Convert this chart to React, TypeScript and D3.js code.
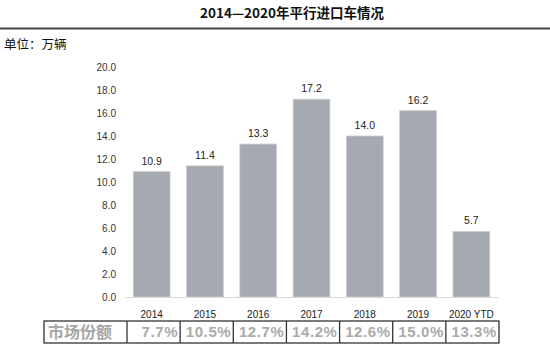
import React from "react";
import * as d3 from "d3";

const categories = ["2014", "2015", "2016", "2017", "2018", "2019", "2020 YTD"];
const values = [10.9, 11.4, 13.3, 17.2, 14.0, 16.2, 5.7];
const shares = ["7.7%", "10.5%", "12.7%", "14.2%", "12.6%", "15.0%", "13.3%"];
const yTicks = [0, 2, 4, 6, 8, 10, 12, 14, 16, 18, 20];
const title = "2014—2020年平行进口车情况";
const unitLabel = "单位：万辆";
const shareLabel = "市场份额";

const W = 550;
const H = 351;
const CJK = "'Noto Sans CJK SC', 'Noto Sans', sans-serif";
const LAT = "'Liberation Sans', Arial, sans-serif";

export default function App() {
  const x = d3
    .scaleBand<string>()
    .domain(categories)
    .range([125, 498])
    .paddingInner(0.31)
    .paddingOuter(0.155);
  const y = d3.scaleLinear().domain([0, 20]).range([297, 67]);
  const tx = d3.scaleBand<string>().domain(categories).range([127, 499]);
  const tableTop = 321;
  const tableBottom = 343;

  return (
    <svg
      width={W}
      height={H}
      style={{ position: "absolute", left: 0, top: 0, background: "#fff" }}
    >
      <rect x={0} y={0} width={W} height={H} fill="#fff" />
      <text
        x={292}
        y={18}
        textAnchor="middle"
        fontFamily={CJK}
        fontWeight={700}
        fontSize={13.5}
        fill="#111"
      >
        {title}
      </text>
      <line x1={0} x2={W} y1={28.5} y2={28.5} stroke="#444" strokeWidth={2} />
      <text x={4} y={49} fontFamily={CJK} fontSize={12.5} fill="#111">
        {unitLabel}
      </text>

      {yTicks.map((t) => (
        <text
          key={t}
          x={116}
          y={y(t)}
          dy="0.35em"
          textAnchor="end"
          fontFamily={LAT}
          fontSize={10}
          fill="#333"
        >
          {t.toFixed(1)}
        </text>
      ))}

      {categories.map((c, i) => (
        <g key={c}>
          <rect
            x={x(c)!}
            y={y(values[i])}
            width={x.bandwidth()}
            height={y(0) - y(values[i])}
            fill="#a5aab0"
            stroke="#c9ccd0"
            strokeWidth={0.8}
          />
          <text
            x={x(c)! + x.bandwidth() / 2}
            y={y(values[i]) - 7}
            textAnchor="middle"
            fontFamily={LAT}
            fontSize={10.5}
            fill="#222"
          >
            {values[i].toFixed(1)}
          </text>
          <text
            x={x(c)! + x.bandwidth() / 2}
            y={314}
            dy="0.35em"
            textAnchor="middle"
            fontFamily={LAT}
            fontSize={10}
            fill="#222"
          >
            {c}
          </text>
        </g>
      ))}
      <line x1={125} x2={499} y1={297.5} y2={297.5} stroke="#d9d9d9" strokeWidth={1} />

      {/* table */}
      <rect
        x={44}
        y={tableTop}
        width={499 - 44}
        height={tableBottom - tableTop}
        fill="none"
        stroke="#333"
        strokeWidth={1.3}
      />
      {categories.map((c) => (
        <line
          key={"d" + c}
          x1={tx(c)!}
          x2={tx(c)!}
          y1={tableTop}
          y2={tableBottom}
          stroke="#333"
          strokeWidth={1.3}
        />
      ))}
      <text
        x={48}
        y={(tableTop + tableBottom) / 2}
        dy="0.36em"
        textAnchor="start"
        fontFamily={CJK}
        fontWeight={700}
        fontSize={16}
        fill="#a6a6a6"
      >
        {shareLabel}
      </text>
      {categories.map((c, i) => (
        <text
          key={"s" + c}
          x={tx(c)! + tx.bandwidth() - 2}
          y={(tableTop + tableBottom) / 2}
          dy="0.36em"
          textAnchor="end"
          fontFamily={LAT}
          fontWeight={700}
          fontSize={15}
          letterSpacing={0.6}
          fill="#aaaaaa"
        >
          {shares[i]}
        </text>
      ))}
    </svg>
  );
}
